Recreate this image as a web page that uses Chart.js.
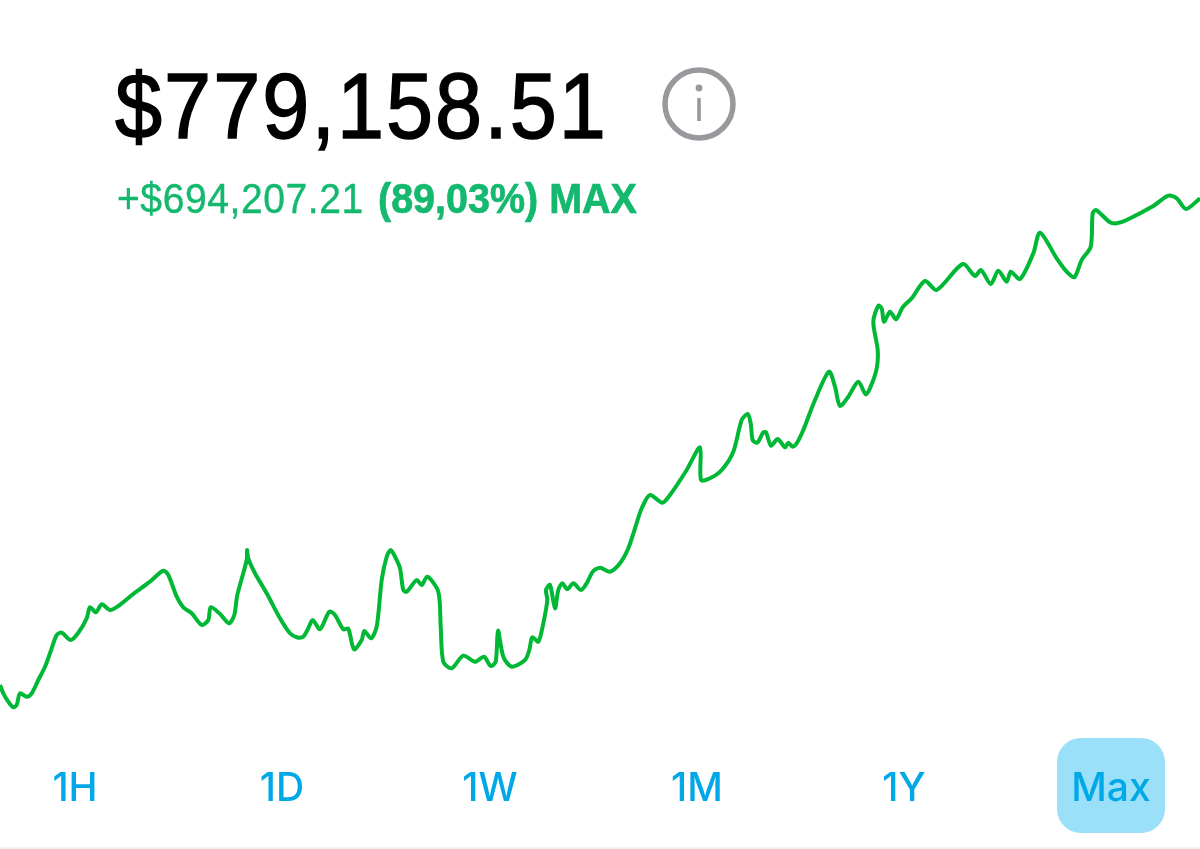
<!DOCTYPE html>
<html>
<head>
<meta charset="utf-8">
<title>Portfolio value</title>
<script src="https://cdn.jsdelivr.net/npm/chart.js@4/dist/chart.umd.min.js"></script>
<style>
  html, body { margin: 0; padding: 0; background: #fff; }
  #page { position: relative; width: 1200px; height: 849px; overflow: hidden; }
  #valueChart { position: absolute; left: 0; top: 0; }
  #total, .change { position: absolute; white-space: nowrap; font-family: "Liberation Sans", sans-serif; transform-origin: left top; }
  #total { left: 115px; top: 53px; font-size: 92px; line-height: 106px; color: #000; letter-spacing: 2.2px;
           transform: scaleX(0.92); -webkit-text-stroke: 1.5px #000; }
  .change { top: 175px; font-size: 42px; line-height: 48px; color: #14b86e; }
  #changeAmount { left: 117px; letter-spacing: 0.6px; transform: scaleX(0.93); -webkit-text-stroke: 0.4px #14b86e; }
  #changePct { left: 378px; font-weight: 700; transform: scaleX(0.94); -webkit-text-stroke: 0.7px #14b86e; }
  #info { position: absolute; left: 661px; top: 66px; }
  .range { position: absolute; top: 738px; height: 95px; line-height: 98px; text-align: center;
           font-family: Inter, sans-serif; font-size: 39px; font-weight: 500; color: #00a8e8; width: 108px; }
  .range.active { background: #9be0f9; border-radius: 24px; }
  #rule { position: absolute; left: 0; top: 847px; width: 1200px; height: 2px; background: #f2f2f2; }
</style>
</head>
<body>
<div id="page">
  <canvas id="valueChart" width="1200" height="849"></canvas>
  <div id="total">$779,158.51</div>
  <div class="change" id="changeAmount">+$694,207.21</div>
  <div class="change" id="changePct">(89,03%) MAX</div>
  <svg id="info" width="76" height="76" viewBox="0 0 76 76">
    <circle cx="38" cy="38" r="34" fill="none" stroke="#98989d" stroke-width="5.5"/>
    <circle cx="38" cy="22" r="3.4" fill="#98989d"/>
    <rect x="36.2" y="32" width="3.6" height="23" fill="#98989d"/>
  </svg>
  <div id="ranges"></div>
  <div id="rule"></div>
</div>
<script>
const rangeLabels = ['1H', '1D', '1W', '1M', '1Y', 'Max'];
const rangeCentres = [75, 282, 490, 697, 904, 1111];

// x along the time axis, height above the bottom edge
const timeValues = [
  0, 3.3, 8.3, 13.3, 16.7, 20, 26.7, 31.7, 38.3, 45, 50, 56.7, 61.7, 70.7, 78.3, 86.7, 90, 96, 101.7, 110,
  118.3, 133.3, 150, 163.3, 168.3, 176.7, 183.3, 191.7, 201.7, 208.3, 210.7, 220, 229, 234.3, 237.3, 246.7, 247, 248.3, 255, 266.7,
  280, 290, 296.7, 303.3, 308.3, 312.7, 320, 329.3, 335, 343.3, 348.3, 354, 361.7, 364.3, 371, 376.7, 381.7, 386.7, 390.7, 395,
  400, 403.3, 406.7, 416.7, 421.7, 427.3, 438.3, 440.7, 443.3, 451.7, 463.3, 475, 484, 490.7, 495.7, 498, 503.3, 511.7, 525, 529.3,
  532.3, 538.3, 543.3, 547.3, 546, 550, 555, 558.3, 562.3, 567.3, 573.3, 581, 586.7, 592.7, 600, 610, 620, 628.3, 635, 641.7,
  650, 662.3, 670, 686.7, 700, 701, 710, 721.7, 733.3, 741.7, 747.7, 750.7, 752.7, 757.3, 763.3, 766, 771, 777.7, 785, 788.3,
  792.7, 796.7, 803.3, 815, 829, 835, 840, 848.3, 858.3, 865.7, 870, 876.7, 877.7, 873.3, 878.3, 881.7, 884, 890, 896, 902.7,
  911.7, 925, 936.7, 962.7, 975, 981, 990.7, 998.3, 1006.7, 1010.7, 1020, 1033.3, 1040, 1056.7, 1066.7, 1074.3, 1081.7, 1090.7, 1092.7, 1096,
  1110, 1116.7, 1126.7, 1153.3, 1168.3, 1176.7, 1186, 1200
];
const portfolioValues = [
  164, 155.7, 147.3, 141.7, 144, 155.7, 152.3, 155.7, 169, 182.3, 195.7, 214, 216.3, 209, 216.3, 230.7, 241.7, 236.7, 244.7, 239,
  243, 255, 267.3, 278.3, 274, 252.3, 241.7, 235.7, 224, 229, 241.7, 235, 225.7, 234, 254, 289, 299, 290.7, 275.7, 255.7,
  230.7, 215.7, 211.7, 212.3, 220.7, 229, 219.7, 237.3, 234, 219.7, 220.3, 199.7, 209, 218, 210.7, 222.3, 269, 292.3, 299, 292.3,
  280.7, 259, 257.3, 269, 264, 272.3, 257.3, 222.3, 187.3, 180.7, 193.3, 187.3, 192.3, 183, 187.3, 218.3, 192.3, 182.3, 189, 199,
  211.7, 207.3, 225.7, 249, 259, 264, 240.7, 259, 265.7, 259.7, 265.7, 259, 265.7, 277.3, 281.3, 277.3, 285.7, 300.7, 320.7, 340.7,
  354, 346.3, 354, 379, 401.7, 369, 370.7, 379, 397.3, 429, 435, 425.7, 409, 406.3, 416.7, 416.7, 403.3, 410, 401.7, 406.3,
  402.3, 405.7, 419, 449, 477.3, 462.3, 443, 452.3, 467.3, 454.7, 460.7, 480.7, 499, 527.3, 543.3, 540.7, 527.3, 537.3, 529.7, 541.7,
  550.7, 568, 559, 585, 573, 579, 565, 578.3, 567.3, 577.3, 570, 595.7, 616.3, 590.7, 577.3, 571.7, 589, 602.3, 635.7, 639,
  626.7, 625.7, 629, 643, 653.3, 650.7, 640, 650.7
];

const rangesBox = document.getElementById('ranges');
rangeLabels.forEach((label, i) => {
  const el = document.createElement('div');
  el.className = 'range' + (label === 'Max' ? ' active' : '');
  el.textContent = label;
  el.style.left = (rangeCentres[i] - 54) + 'px';
  rangesBox.appendChild(el);
});

const ctx = document.getElementById('valueChart').getContext('2d');
new Chart(ctx, {
  type: 'line',
  data: {
    datasets: [{
      label: 'Portfolio value',
      data: timeValues.map((t, i) => ({ x: t, y: portfolioValues[i] })),
      borderColor: '#00b835',
      borderWidth: 4,
      pointRadius: 0,
      fill: false,
      tension: 0.28
    }]
  },
  options: {
    responsive: false,
    animation: false,
    layout: { padding: 0 },
    plugins: { legend: { display: false }, tooltip: { enabled: false } },
    scales: {
      x: { type: 'linear', display: false, min: 0, max: 1200 },
      y: { type: 'linear', display: false, min: 0, max: 849 }
    }
  }
});
</script>
</body>
</html>
